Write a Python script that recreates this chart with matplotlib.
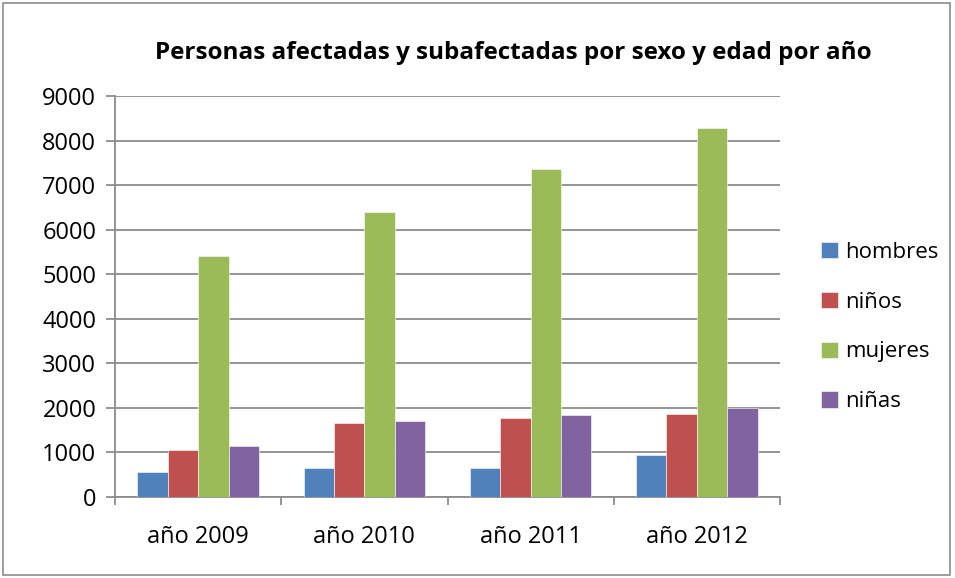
import matplotlib.pyplot as plt
from matplotlib.patches import Rectangle
import numpy as np

plt.rcParams['font.family'] = ['Open Sans', 'DejaVu Sans']

years = ['año 2009', 'año 2010', 'año 2011', 'año 2012']
hombres = [550, 640, 640, 950]
ninos = [1060, 1670, 1780, 1870]
mujeres = [5410, 6390, 7370, 8290]
ninas = [1150, 1700, 1850, 2000]

series = [
    ('hombres', hombres, '#4F81BD'),
    ('niños', ninos, '#C0504D'),
    ('mujeres', mujeres, '#9BBB59'),
    ('niñas', ninas, '#8064A2'),
]

fig = plt.figure(figsize=(9.55, 5.78), dpi=100)
ax = fig.add_axes([115 / 955, 1 - 497 / 578, 665 / 955, 401 / 578])

x = np.arange(len(years))
w = 0.183
for i, (name, vals, col) in enumerate(series):
    ax.bar(x + (i - 1.5) * w, vals, w, color=col, label=name,
           edgecolor='white', linewidth=0.4, zorder=3)

ax.set_xlim(-0.5, len(years) - 0.5)
ax.set_ylim(0, 9000)
ax.set_yticks(range(0, 9001, 1000))
ax.yaxis.grid(True, color='#8c8c8c', linewidth=1.3, zorder=0)
ax.set_xticks(x)
ax.set_xticklabels(years)
ax.set_xticks(np.arange(-0.5, len(years)), minor=True)
ax.tick_params(axis='x', which='major', length=0, pad=20, labelsize=17)
ax.tick_params(axis='x', which='minor', length=6, color='#8c8c8c', width=1.3)
ax.tick_params(axis='y', length=6.5, color='#8c8c8c', width=1.3, pad=7, labelsize=17)
for s in ['top', 'right']:
    ax.spines[s].set_visible(False)
for s in ['left', 'bottom']:
    ax.spines[s].set_color('#8c8c8c')
    ax.spines[s].set_linewidth(1.3)

fig.text(513 / 955, 1 - 53 / 578, 'Personas afectadas y subafectadas por sexo y edad por año',
         ha='center', va='center', fontsize=17.5, fontweight='bold')

ax.legend(loc='center left', bbox_to_anchor=(801 / 955, 1 - 327 / 578),
          bbox_transform=fig.transFigure, frameon=False, fontsize=16,
          handlelength=0.75, handleheight=0.75, handletextpad=0.35,
          labelspacing=1.3)

fig.patches.append(Rectangle((3 / 955, 3 / 578), 947 / 955, 572 / 578,
                             transform=fig.transFigure, fill=False,
                             edgecolor='#8c8c8c', linewidth=1.2))

fig.savefig('out.png', dpi=100)
